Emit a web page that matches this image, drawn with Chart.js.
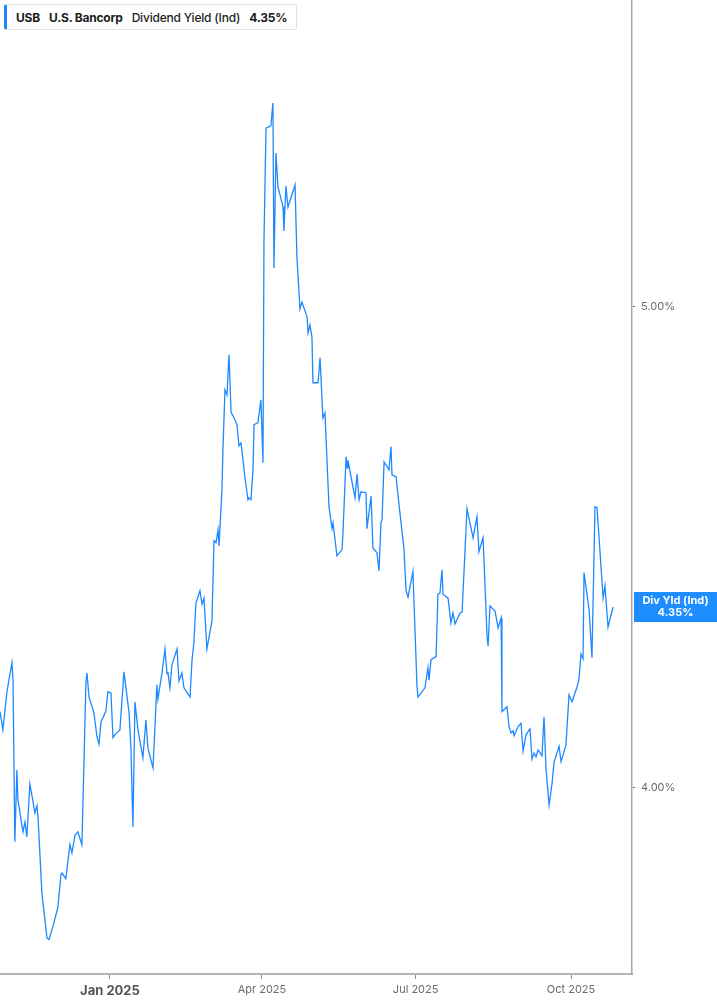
<!DOCTYPE html>
<html lang="en">
<head>
    <meta charset="UTF-8">
    <title>USB Dividend Yield</title>
    <script src="https://cdn.jsdelivr.net/npm/chart.js"></script>
    <style>
        body { margin: 0; background: #fff; font-family: Inter, "Noto Sans", sans-serif; }
        #wrap { position: relative; width: 717px; height: 1005px; }
        #legend {
            position: absolute; left: 4px; top: 4px; height: 24px; width: 289px;
            border: 1px solid #e4e4e4; border-left: 3px solid #1e88ff; border-radius: 3px;
            background: #fff; display: flex; align-items: center; font-size: 12px;
            color: #1d1d1d; letter-spacing: -0.2px; box-sizing: content-box;
        }
        #legend span { margin-left: 9px; white-space: nowrap; }
        #legend .b { font-weight: 700; }
        #legend .m { font-weight: 500; }
    </style>
</head>
<body>
<div id="wrap">
    <canvas id="myChart"></canvas>
    <div id="legend">
        <span class="b">USB</span>
        <span class="b">U.S. Bancorp</span>
        <span class="m">Dividend Yield (Ind)</span>
        <span class="b">4.35%</span>
    </div>
</div>

<script>
    // days counted from 2025-01-01, yield in percent
    const days = [
        -65.1, -63.4, -61.0, -58.0, -57.4, -56.3, -55.1, -54.5, -51.5, -50.3, -49.2, -47.4,
        -44.4, -43.2, -42.6, -40.3, -37.3, -36.1, -33.8, -30.8, -29.0, -28.4, -26.1, -23.7,
        -22.5, -20.7, -19.0, -16.6, -14.2, -13.6, -12.4, -9.5, -7.7, -6.5, -5.3, -2.4,
        -1.2, 0.6, 1.8, 3.0, 5.9, 8.3, 11.3, 12.4, 13.6, 14.8, 16.6, 19.5,
        21.3, 22.5, 25.5, 27.8, 28.4, 30.8, 32.6, 33.8, 34.3, 35.5, 36.7, 39.7,
        40.9, 42.6, 43.8, 47.4, 48.6, 49.7, 50.9, 53.3, 54.5, 55.7, 57.4, 60.4,
        61.6, 62.8, 64.0, 64.6, 66.3, 66.9, 68.1, 69.3, 70.5, 71.7, 74.0, 75.2,
        76.4, 77.6, 79.9, 81.7, 82.3, 83.5, 84.7, 85.3, 87.6, 89.4, 90.6, 91.2,
        92.4, 95.3, 96.5, 97.1, 98.3, 99.5, 102.5, 103.0, 104.2, 105.4, 109.6, 110.7,
        112.5, 113.7, 116.7, 117.3, 118.4, 119.6, 120.2, 123.2, 124.4, 126.1, 127.3, 129.7,
        131.5, 132.1, 134.4, 137.4, 138.0, 139.8, 140.4, 140.9, 145.1, 146.3, 147.5, 148.6,
        151.6, 152.2, 154.6, 155.7, 158.1, 159.3, 160.5, 161.1, 162.3, 165.2, 166.4, 167.0,
        169.4, 171.7, 174.1, 175.3, 176.5, 179.4, 181.8, 182.4, 186.5, 188.3, 188.9, 190.1,
        193.1, 194.2, 195.4, 196.6, 197.2, 200.2, 201.9, 203.1, 204.3, 207.3, 208.5, 211.4,
        215.0, 217.3, 218.5, 220.9, 223.3, 223.9, 225.0, 228.0, 229.8, 231.6, 232.1, 235.1,
        236.3, 237.5, 238.7, 239.3, 241.6, 243.4, 244.6, 246.4, 248.7, 249.9, 251.1, 252.3,
        253.5, 255.8, 257.0, 258.2, 260.0, 261.8, 262.9, 265.9, 267.1, 270.0, 271.8, 273.6,
        276.6, 277.7, 278.9, 280.1, 280.7, 283.7, 285.4, 287.2, 288.4, 292.0, 293.1, 294.9,
        297.9
    ];
    const yields = [
        4.144, 4.109, 4.182, 4.239, 4.205, 3.901, 4.033, 3.978, 3.919, 3.937, 3.910, 4.007,
        3.954, 3.967, 3.946, 3.810, 3.731, 3.728, 3.750, 3.785, 3.842, 3.845, 3.835, 3.896,
        3.881, 3.913, 3.919, 3.896, 4.202, 4.219, 4.172, 4.142, 4.096, 4.082, 4.124, 4.145,
        4.182, 4.180, 4.094, 4.100, 4.109, 4.221, 4.142, 4.076, 3.928, 4.163, 4.109, 4.056,
        4.128, 4.074, 4.037, 4.196, 4.168, 4.219, 4.266, 4.217, 4.221, 4.190, 4.235, 4.266,
        4.203, 4.219, 4.190, 4.172, 4.245, 4.278, 4.358, 4.383, 4.356, 4.368, 4.266, 4.322,
        4.486, 4.482, 4.509, 4.475, 4.593, 4.679, 4.811, 4.800, 4.890, 4.762, 4.745, 4.734,
        4.688, 4.694, 4.621, 4.572, 4.576, 4.572, 4.636, 4.734, 4.738, 4.789, 4.651, 5.158,
        5.432, 5.438, 5.496, 5.091, 5.370, 5.286, 5.237, 5.179, 5.288, 5.237, 5.291, 5.117,
        4.995, 5.011, 4.977, 4.940, 4.958, 4.931, 4.827, 4.827, 4.883, 4.749, 4.760, 4.557,
        4.511, 4.523, 4.455, 4.467, 4.504, 4.664, 4.640, 4.657, 4.576, 4.627, 4.572, 4.589,
        4.587, 4.511, 4.580, 4.471, 4.461, 4.424, 4.525, 4.530, 4.653, 4.636, 4.686, 4.625,
        4.621, 4.544, 4.469, 4.383, 4.370, 4.422, 4.192, 4.172, 4.190, 4.229, 4.205, 4.245,
        4.251, 4.376, 4.378, 4.426, 4.376, 4.368, 4.318, 4.338, 4.316, 4.338, 4.340, 4.553,
        4.492, 4.536, 4.463, 4.492, 4.290, 4.272, 4.352, 4.342, 4.308, 4.328, 4.144, 4.153,
        4.115, 4.103, 4.107, 4.098, 4.115, 4.122, 4.069, 4.100, 4.111, 4.054, 4.065, 4.058,
        4.071, 4.060, 4.134, 4.035, 3.968, 4.009, 4.047, 4.078, 4.049, 4.080, 4.176, 4.163,
        4.192, 4.207, 4.256, 4.247, 4.420, 4.344, 4.249, 4.557, 4.555, 4.368, 4.393, 4.310,
        4.350
    ];
    const tickDays = [0, 90, 181, 273];
    const tickLabels = ['Jan 2025', 'Apr 2025', 'Jul 2025', 'Oct 2025'];
    const yTicks = [4, 5];
    const lastLabel = ['Div Yld (Ind)', '4.35%'];

    const points = days.map((d, i) => ({ x: d, y: yields[i] }));

    const lastBadge = {
        id: 'lastBadge',
        afterDraw(chart) {
            const ctx = chart.ctx;
            const y = chart.scales.y.getPixelForValue(yields[yields.length - 1]);
            const left = chart.chartArea.right + 2;
            ctx.save();
            ctx.fillStyle = '#1e8eff';
            ctx.fillRect(left, y - 15, chart.width - left, 30);
            ctx.fillStyle = '#fff';
            ctx.font = '700 11px Inter, sans-serif';
            ctx.textAlign = 'center';
            ctx.textBaseline = 'middle';
            const cx = (left + chart.width) / 2;
            ctx.fillText(lastLabel[0], cx, y - 6);
            ctx.fillText(lastLabel[1], cx, y + 6);
            ctx.restore();
        }
    };

    new Chart(document.getElementById('myChart'), {
        type: 'line',
        data: {
            datasets: [{
                label: 'Dividend Yield (Ind)',
                data: points,
                borderColor: '#1e88ff',
                borderWidth: 1.3,
                pointRadius: 0,
                tension: 0
            }]
        },
        options: {
            responsive: true,
            maintainAspectRatio: false,
            animation: false,
            layout: { padding: 0 },
            plugins: { legend: { display: false }, tooltip: { enabled: false } },
            scales: {
                x: {
                    type: 'linear',
                    min: -65.1,
                    max: 309.1,
                    afterBuildTicks: axis => { axis.ticks = tickDays.map(v => ({ value: v })); },
                    afterFit: axis => {
                        axis.height = 31;
                        axis.paddingLeft = 0;
                        axis.paddingRight = 0;
                    },
                    border: { display: true, color: '#b5b5b5', width: 2 },
                    grid: { drawOnChartArea: false, drawTicks: true, tickLength: 5, color: '#8a8a8a' },
                    ticks: {
                        autoSkip: false,
                        maxRotation: 0,
                        padding: 4,
                        color: ctx => ctx.tick && ctx.tick.value === 0 ? '#555' : '#6a6a6a',
                        font: ctx => ctx.tick && ctx.tick.value === 0
                            ? { family: 'Inter', size: 13, weight: '700' }
                            : { family: 'Inter', size: 11, weight: '400' },
                        callback: v => tickLabels[tickDays.indexOf(v)]
                    }
                },
                y: {
                    type: 'logarithmic',
                    position: 'right',
                    min: 3.669,
                    max: 5.765,
                    afterBuildTicks: axis => { axis.ticks = yTicks.map(v => ({ value: v })); },
                    afterFit: axis => {
                        axis.width = 85;
                        axis.paddingTop = 0;
                        axis.paddingBottom = 0;
                    },
                    border: { display: true, color: '#a8a8a8', width: 1.5 },
                    grid: { drawOnChartArea: false, drawTicks: true, tickLength: 3, color: '#777' },
                    ticks: {
                        padding: 6,
                        color: '#6a6a6a',
                        font: { family: 'Inter', size: 11 },
                        callback: v => v.toFixed(2) + '%'
                    }
                }
            }
        },
        plugins: [lastBadge]
    });
</script>
</body>
</html>
